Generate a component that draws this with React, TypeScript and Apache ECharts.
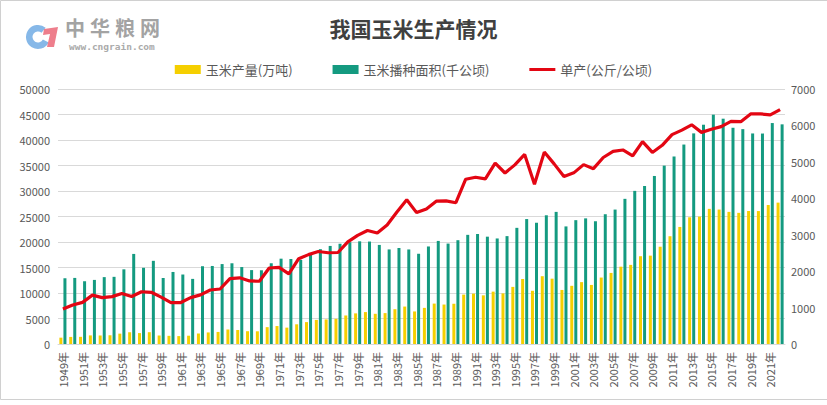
import React, { useEffect, useRef } from "react";
import * as echarts from "echarts";

const years: number[] = [
  1949, 1950, 1951, 1952, 1953, 1954, 1955, 1956, 1957, 1958, 1959, 1960, 1961, 1962, 1963,
  1964, 1965, 1966, 1967, 1968, 1969, 1970, 1971, 1972, 1973, 1974, 1975, 1976, 1977, 1978,
  1979, 1980, 1981, 1982, 1983, 1984, 1985, 1986, 1987, 1988, 1989, 1990, 1991, 1992, 1993,
  1994, 1995, 1996, 1997, 1998, 1999, 2000, 2001, 2002, 2003, 2004, 2005, 2006, 2007, 2008,
  2009, 2010, 2011, 2012, 2013, 2014, 2015, 2016, 2017, 2018, 2019, 2020, 2021, 2022,
];
const categories: string[] = years.map((y) => `${y}年`);

// 玉米产量(万吨)
const production: number[] = [
  1242, 1389, 1406, 1685, 1669, 1714, 2032, 2305, 2144, 2314, 1665, 1603, 1551, 1626, 2058,
  2269, 2366, 2843, 2742, 2508, 2491, 3303, 3521, 3210, 3862, 4292, 4722, 4816, 4939, 5595,
  6004, 6260, 5921, 6056, 6821, 7341, 6383, 7086, 7924, 7735, 7893, 9682, 9877, 9538, 10270,
  9928, 11199, 12747, 10431, 13295, 12809, 10600, 11409, 12131, 11583, 13029, 13937, 15160, 15512, 17212,
  17326, 19075, 21132, 22956, 24845, 24976, 26499, 26361, 25907, 25717, 26078, 26067, 27255, 27720,
];

// 玉米播种面积(千公顷)
const area: number[] = [
  12915, 12958, 12306, 12566, 13114, 13170, 14639, 17662, 14943, 16309, 12946, 14124, 13625, 12767, 15253,
  15301, 15671, 15828, 15089, 14492, 14456, 15831, 16730, 16662, 16494, 17500, 18598, 19228, 19658, 19961,
  20133, 20087, 19425, 18543, 18824, 18537, 17694, 19124, 20212, 19692, 20353, 21401, 21574, 21044, 20694,
  21152, 22776, 24498, 23775, 25239, 25904, 23056, 24282, 24634, 24068, 25446, 26358, 28463, 30024, 30981,
  32948, 34977, 36767, 39109, 41299, 42997, 44968, 44178, 42399, 42130, 41284, 41264, 43324, 43070,
];

// 单产(公斤/公顷)
const yieldPerHa: number[] = [
  962, 1072, 1143, 1341, 1273, 1301, 1388, 1305, 1435, 1419, 1286, 1135, 1138, 1274, 1349,
  1483, 1510, 1796, 1817, 1731, 1723, 2086, 2105, 1927, 2341, 2453, 2539, 2505, 2512, 2803,
  2982, 3116, 3048, 3266, 3624, 3960, 3607, 3705, 3920, 3928, 3878, 4524, 4578, 4532, 4963,
  4694, 4917, 5203, 4387, 5268, 4945, 4598, 4698, 4924, 4813, 5120, 5288, 5326, 5167, 5556,
  5259, 5454, 5748, 5870, 6016, 5809, 5893, 5967, 6110, 6104, 6317, 6317, 6291, 6436,
];

const leftTicks = { min: 0, max: 50000, interval: 5000 };
const rightTicks = { min: 0, max: 7000, interval: 1000 };

const logoName = "中华粮网";
const logoUrl = "www.cngrain.com";

const FONT = "'Noto Sans CJK SC', 'Noto Sans', sans-serif";
const YELLOW = "#F5CF00";
const GREEN = "#149A80";
const RED = "#E30613";
const LABEL = "#595959";
const GRID = "#D9D9D9";

export default function App() {
  const ref = useRef<HTMLDivElement>(null);

  useEffect(() => {
    document.body.style.margin = "0";
    if (!ref.current) return;
    const chart = echarts.init(ref.current, undefined, { renderer: "svg" });

    const nameChars = logoName.split("").map((ch, i) => ({
      type: "text",
      x: 65 + i * 25,
      y: 27,
      silent: true,
      style: {
        text: ch,
        font: `bold 20px ${FONT}`,
        fill: "#A3A3A3",
        textVerticalAlign: "middle",
      },
    }));

    chart.setOption({
      animation: false,
      backgroundColor: "#ffffff",
      textStyle: { fontFamily: FONT },
      title: {
        text: "我国玉米生产情况",
        left: "center",
        top: 12,
        textStyle: { fontSize: 21, fontWeight: "bold", color: "#404040", fontFamily: FONT },
      },
      legend: {
        top: 58,
        left: "center",
        itemWidth: 26,
        itemHeight: 9,
        itemGap: 40,
        symbolKeepAspect: true,
        textStyle: { fontSize: 13, color: LABEL, fontFamily: FONT },
        data: [
          { name: "玉米产量(万吨)", icon: "rect" },
          { name: "玉米播种面积(千公顷)", icon: "rect" },
          { name: "单产(公斤/公顷)", icon: "path://M0,0H26V3H0Z" },
        ],
      },
      graphic: [
        {
          type: "rect",
          shape: { x: 0.5, y: 0.5, width: 840, height: 399 },
          style: { fill: "none", stroke: "#D0D0D0", lineWidth: 1 },
          silent: true,
        },
        {
          type: "sector",
          shape: { cx: 38, cy: 37, r: 12, r0: 5.5, startAngle: Math.PI * 0.15, endAngle: Math.PI * 1.72, clockwise: true },
          style: { fill: "#86B8E8" },
          silent: true,
        },
        {
          type: "polygon",
          shape: { points: [[44, 29], [58, 27], [54, 47], [47, 47], [50, 34], [43, 35]] },
          style: { fill: "#EE7E8C" },
          silent: true,
        },
        ...nameChars,
        {
          type: "text",
          x: 69,
          y: 46,
          silent: true,
          style: {
            text: logoUrl,
            font: `bold 9.5px 'DejaVu Sans Mono', monospace`,
            fill: "#ABABAB",
            textVerticalAlign: "middle",
          },
        },
      ],
      grid: { left: 58, right: 42, top: 89, bottom: 61, containLabel: false },
      xAxis: {
        type: "category",
        data: categories,
        boundaryGap: true,
        axisLine: { show: true, lineStyle: { color: GRID } },
        axisTick: { show: false },
        axisLabel: { rotate: 90, interval: 1, fontSize: 11, color: LABEL, margin: 8, fontFamily: FONT },
      },
      yAxis: [
        {
          type: "value",
          ...leftTicks,
          axisLine: { show: false },
          axisTick: { show: false },
          splitLine: { lineStyle: { color: GRID } },
          axisLabel: { fontSize: 11, color: LABEL, margin: 8, fontFamily: FONT, formatter: (v: number) => String(v) },
        },
        {
          type: "value",
          ...rightTicks,
          position: "right",
          axisLine: { show: false },
          axisTick: { show: false },
          splitLine: { show: false },
          axisLabel: { fontSize: 11, color: LABEL, margin: 6, fontFamily: FONT, formatter: (v: number) => String(v) },
        },
      ],
      series: [
        {
          name: "玉米产量(万吨)",
          type: "bar",
          data: production,
          barWidth: 3,
          barGap: "35%",
          itemStyle: { color: YELLOW },
        },
        {
          name: "玉米播种面积(千公顷)",
          type: "bar",
          data: area,
          barWidth: 3,
          itemStyle: { color: GREEN },
        },
        {
          name: "单产(公斤/公顷)",
          type: "line",
          yAxisIndex: 1,
          data: yieldPerHa,
          symbol: "none",
          lineStyle: { width: 3.2, color: RED },
          itemStyle: { color: RED },
        },
      ],
    });
    return () => chart.dispose();
  }, []);

  return <div ref={ref} style={{ width: 827, height: 405 }} />;
}
